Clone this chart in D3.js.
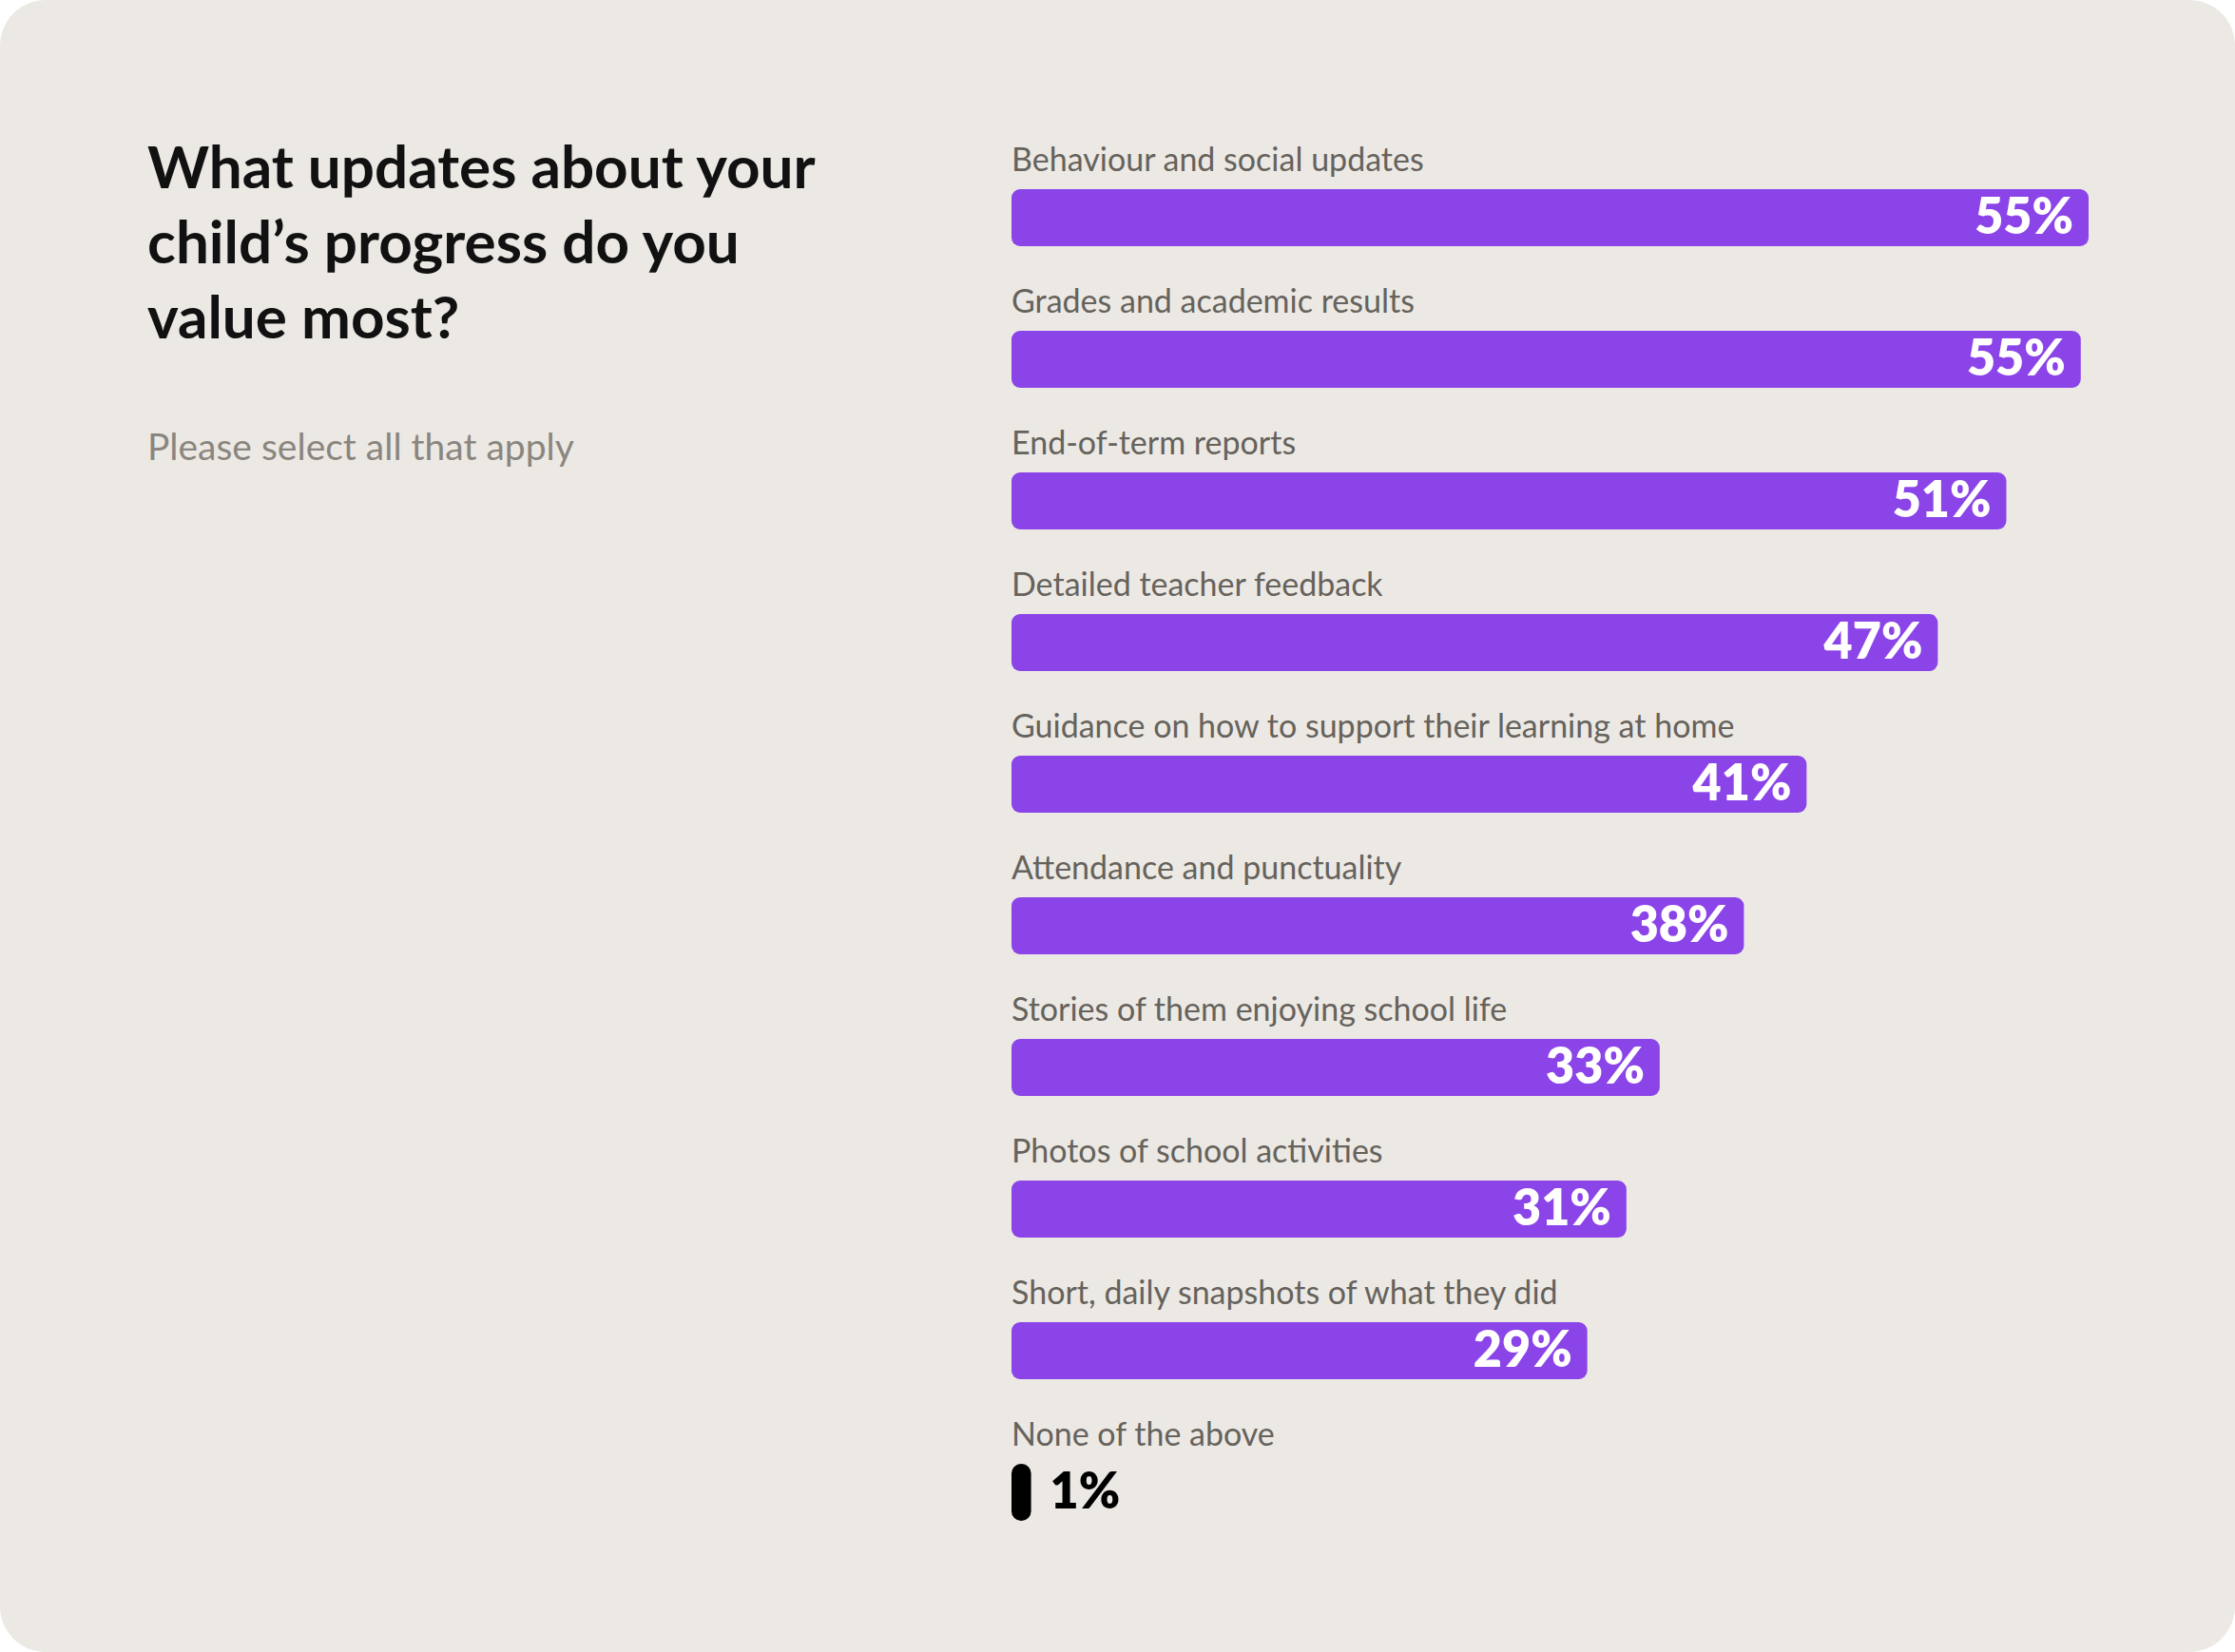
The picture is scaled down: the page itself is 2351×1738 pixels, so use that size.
<!DOCTYPE html>
<html><head><meta charset="utf-8">
<script src="https://cdn.jsdelivr.net/npm/d3@7"></script>
<style>html,body{margin:0;padding:0;background:#fff;}svg{display:block;}</style>
</head><body>
<script>
const categories = ["Behaviour and social updates","Grades and academic results","End-of-term reports","Detailed teacher feedback","Guidance on how to support their learning at home","Attendance and punctuality","Stories of them enjoying school life","Photos of school activities","Short, daily snapshots of what they did","None of the above"];
const values = [55.0,54.6,50.8,47.3,40.6,37.4,33.1,31.4,29.4,1.0];
const labels = ["55%","55%","51%","47%","41%","38%","33%","31%","29%","1%"];

const W=2351,H=1738;
const svg=d3.select("body").append("svg").attr("width",W).attr("height",H);
svg.append("rect").attr("width",W).attr("height",H).attr("rx",48).attr("fill","#ece9e4");
const font="Lato, 'Open Sans', sans-serif";

const title=["What updates about your","child’s progress do you","value most?"];
svg.selectAll("text.t").data(title).join("text").attr("x",155).attr("y",(d,i)=>198+i*79)
 .attr("font-family",font).attr("font-weight",700).attr("font-size",62).attr("fill","#111").text(d=>d);
svg.append("text").attr("x",155).attr("y",484).attr("font-family",font).attr("font-size",39).attr("fill","#8a867f").text("Please select all that apply");

const x=d3.scaleLinear().domain([0,55]).range([1064,2197]);
const y=d3.scaleBand().domain(categories).range([199,199+149*10]).paddingInner(0);
const g=svg.selectAll("g.row").data(categories).join("g");
g.append("text").attr("x",1064).attr("y",d=>y(d)-19).attr("font-family",font).attr("font-size",34).attr("fill","#66625c").text(d=>d);
g.append("rect").attr("x",x(0)).attr("y",d=>y(d)).attr("height",60)
 .attr("width",(d,i)=>x(values[i])-x(0)).attr("rx",(d,i)=>i===9?10:9)
 .attr("fill",(d,i)=>i===9?"#000":"#8b44e8");
g.append("text").attr("y",d=>y(d)+47).attr("font-family",font).attr("font-weight",800).attr("font-size",52)
 .attr("x",(d,i)=>i===9?x(values[i])+20:x(values[i])-16)
 .attr("text-anchor",(d,i)=>i===9?"start":"end")
 .attr("fill",(d,i)=>i===9?"#000":"#fff").text((d,i)=>labels[i]);
</script>
</body></html>
